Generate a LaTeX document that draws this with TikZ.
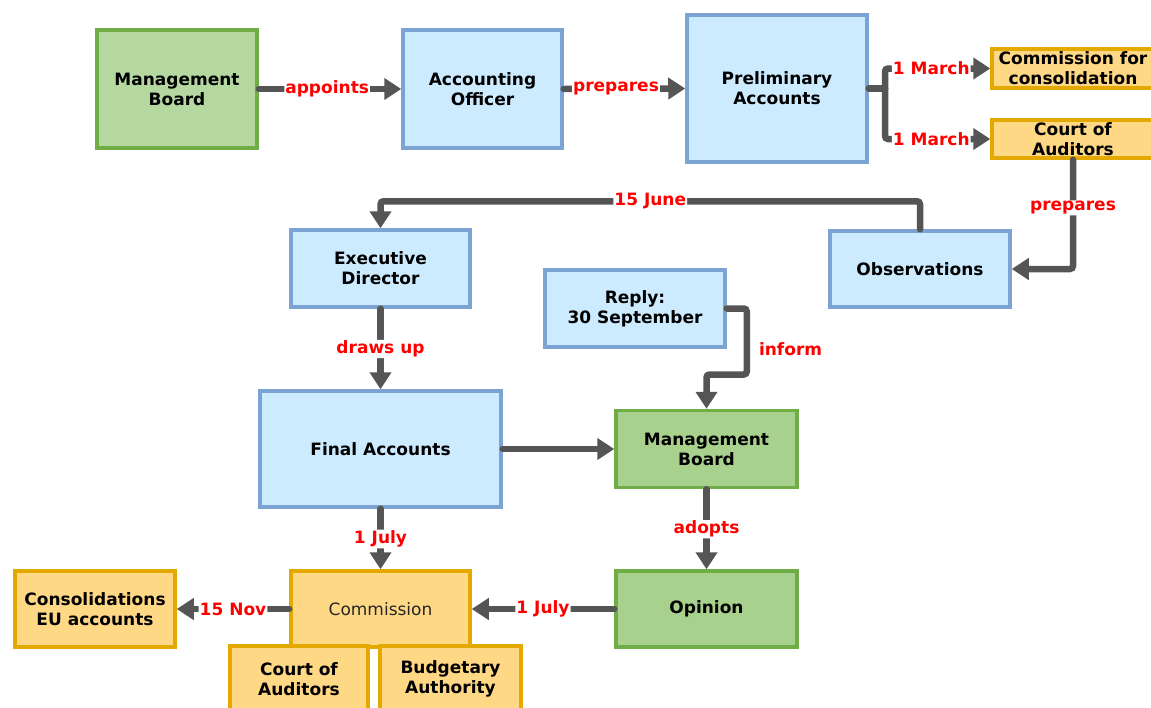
\documentclass[tikz,border=0pt]{standalone}
\usepackage{fontspec}
\setmainfont{DejaVu Sans}
\usetikzlibrary{arrows.meta}
\definecolor{gfillA}{HTML}{B5D7A0}
\definecolor{gfill}{HTML}{A9D18E}
\definecolor{gborder}{HTML}{70AD47}
\definecolor{bfill}{HTML}{CCEBFF}
\definecolor{bborder}{HTML}{7BA3D4}
\definecolor{ofill}{HTML}{FFD886}
\definecolor{oborder}{HTML}{E3A900}
\definecolor{cgray}{HTML}{555555}
\definecolor{lred}{HTML}{FF0000}
\tikzset{
  box/.style={draw, line width=3.5pt, align=center, inner sep=0pt,
    font=\bfseries\fontsize{17}{20}\selectfont, text=black},
  greenbox/.style={box, draw=gborder, fill=gfill},
  bluebox/.style={box, draw=bborder, fill=bfill},
  orangebox/.style={box, draw=oborder, fill=ofill},
  connline/.style={draw=cgray, line width=6.5pt, line cap=round, rounded corners=3pt},
  conn/.style={connline, -{Triangle[length=17pt,width=21pt]}},
  lab/.style={text=lred, fill=white, inner sep=1pt,
    font=\bfseries\fontsize{17}{20}\selectfont},
}
\begin{document}
\begin{tikzpicture}[x=1pt,y=-1pt]
\useasboundingbox (0,0) rectangle (1151,707);
\clip (0,0) rectangle (1151,707);
% nodes
\node[greenbox, fill=gfillA, minimum width=160pt, minimum height=118pt] (mb1) at (177,89) {Management\\Board};
\node[bluebox, minimum width=159pt, minimum height=118pt] (ao) at (482.5,89) {Accounting\\Officer};
\node[bluebox, minimum width=180pt, minimum height=147pt] (pa) at (777,88.5) {Preliminary\\Accounts};
\node[orangebox, minimum width=162pt, minimum height=39pt] (cc) at (1073,68.5) {Commission for\\consolidation};
\node[orangebox, minimum width=162pt, minimum height=38pt] (ca1) at (1073,139) {Court of\\Auditors};
\node[bluebox, minimum width=180pt, minimum height=76pt] (obs) at (920,269) {Observations};
\node[bluebox, minimum width=179pt, minimum height=77pt] (ed) at (380.5,268.5) {Executive\\Director};
\node[bluebox, minimum width=180pt, minimum height=77pt] (reply) at (635,308.5) {Reply:\\30 September};
\node[bluebox, minimum width=241pt, minimum height=116pt] (fa) at (380.5,449) {Final Accounts};
\node[greenbox, minimum width=181pt, minimum height=77pt] (mb2) at (706.5,449) {Management\\Board};
\node[greenbox, minimum width=181pt, minimum height=76pt] (op) at (706.5,609) {Opinion};
\node[orangebox, minimum width=179pt, minimum height=76pt, font=\fontsize{17}{20}\selectfont, text=black!85] (com) at (380.5,609) {Commission};
\node[orangebox, minimum width=160pt, minimum height=76pt] (cons) at (95,609) {Consolidations\\EU accounts};
\node[orangebox, minimum width=138pt, minimum height=66pt] (ca2) at (299,679) {Court of\\Auditors};
\node[orangebox, minimum width=141pt, minimum height=66pt] (ba) at (450.5,679) {Budgetary\\Authority};
% connectors
\draw[conn] (mb1.east) -- node[lab, pos=0.48]{appoints} (ao.west);
\draw[conn] (ao.east) -- node[lab, pos=0.43]{prepares} (pa.west);
\coordinate (br) at (885,88.5);
\draw[connline] (pa.east) -- (br);
\draw[conn] (br) |- node[lab, pos=0.72]{1 March} (cc.west);
\draw[conn] (br) |- node[lab, pos=0.72]{1 March} (ca1.west);
\draw[conn] (ca1.south) |- node[lab, pos=0.22]{prepares} (obs.east);
\draw[conn] (obs.north) -- ++(0,-28) -| node[lab, pos=0.25]{15 June} (ed.north);
\draw[conn] (ed.south) -- node[lab]{draws up} (fa.north);
\draw[conn] (reply.east) -- ++(20,0) -- node[lab, fill=none, right=8pt, pos=0.61]{inform} ++(0,66) -| (mb2.north);
\draw[conn] (fa.east) -- (mb2.west);
\draw[conn] (mb2.south) -- node[lab]{adopts} (op.north);
\draw[conn] (fa.south) -- node[lab]{1 July} (com.north);
\draw[conn] (op.west) -- node[lab]{1 July} (com.east);
\draw[conn] (com.west) -- node[lab]{15 Nov} (cons.east);
\end{tikzpicture}
\end{document}
